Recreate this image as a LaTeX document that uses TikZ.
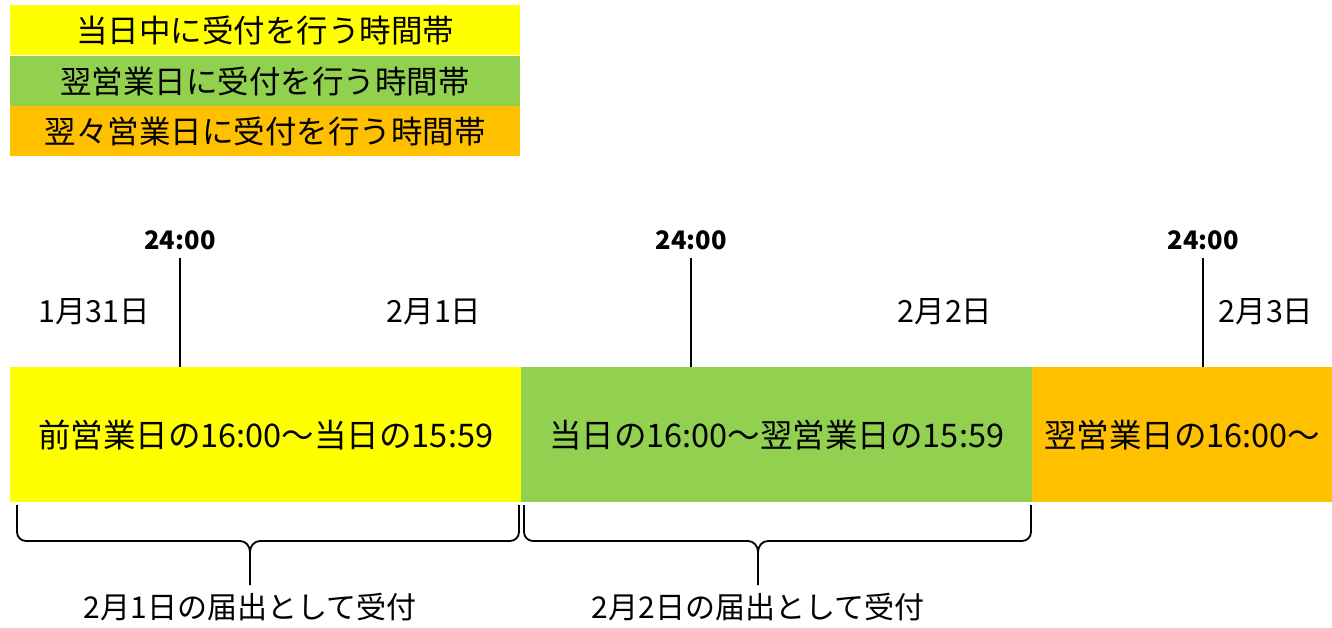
\documentclass[tikz,border=0pt]{standalone}
\usepackage{fontspec}
\setmainfont{Noto Sans CJK JP}
\definecolor{cyellow}{HTML}{FFFF00}
\definecolor{cgreen}{HTML}{92D050}
\definecolor{corange}{HTML}{FFC000}
\tikzset{
  legendbox/.style={minimum width=510pt,minimum height=50pt,inner sep=0pt,anchor=north west,font=\fontsize{31.5}{34}\selectfont},
  barbox/.style={minimum width=#1,minimum height=135pt,inner sep=0pt,anchor=north west,font=\fontsize{32.5}{36}\selectfont},
  timelbl/.style={font=\fontsize{25.5}{28}\selectfont\bfseries,inner sep=0pt},
  datelbl/.style={font=\fontsize{30.5}{34}\selectfont,inner sep=0pt},
  recvlbl/.style={font=\fontsize{30}{33}\selectfont,inner sep=0pt},
  tickline/.style={line width=2.4pt},
  bracestyle/.style={line width=1.8pt,line join=round}
}
\begin{document}
\begin{tikzpicture}[x=1pt,y=-1pt]
\useasboundingbox (0,0) rectangle (1332,628);
% legend
\node[legendbox,fill=cyellow] (leg1) at (10,5) {当日中に受付を行う時間帯};
\node[legendbox,fill=cgreen] (leg2) at (10,56) {翌営業日に受付を行う時間帯};
\node[legendbox,fill=corange] (leg3) at (10,106) {翌々営業日に受付を行う時間帯};
% bars
\node[barbox=511pt,fill=cyellow] (b1) at (10,367) {前営業日の16:00～当日の15:59};
\node[barbox=511pt,fill=cgreen] (b2) at (521,367) {当日の16:00～翌営業日の15:59};
\node[barbox=300pt,fill=corange] (b3) at (1032,367) {翌営業日の16:00～};
% time labels and ticks
\node[timelbl] (t1) at (180,240) {24:00};
\node[timelbl] (t2) at (691,240) {24:00};
\node[timelbl] (t3) at (1203,240) {24:00};
\coordinate (t1top) at (180,258);
\coordinate (t2top) at (691,258);
\coordinate (t3top) at (1203,258);
\coordinate (t1bot) at (180,367);
\coordinate (t2bot) at (691,367);
\coordinate (t3bot) at (1203,367);
\draw[tickline] (t1top) -- (t1bot);
\draw[tickline] (t2top) -- (t2bot);
\draw[tickline] (t3top) -- (t3bot);
% dates
\node[datelbl] (d1) at (94,312) {1月31日};
\node[datelbl] (d2) at (434,312) {2月1日};
\node[datelbl] (d3) at (945,312) {2月2日};
\node[datelbl] (d4) at (1266,312) {2月3日};
% braces
\draw[bracestyle] (17,505) -- (17,532) to[out=-90,in=180] (26,541) -- (240,541) to[out=0,in=90] (250,552) -- (250,585);
\draw[bracestyle] (519,505) -- (519,532) to[out=-90,in=0] (510,541) -- (260,541) to[out=180,in=90] (250,552);
\draw[bracestyle] (524,505) -- (524,532) to[out=-90,in=180] (533,541) -- (748,541) to[out=0,in=90] (758,552) -- (758,585);
\draw[bracestyle] (1031,505) -- (1031,532) to[out=-90,in=0] (1022,541) -- (768,541) to[out=180,in=90] (758,552);
\node[recvlbl] (r1) at (250,607) {2月1日の届出として受付};
\node[recvlbl] (r2) at (758,607) {2月2日の届出として受付};
\end{tikzpicture}
\end{document}
